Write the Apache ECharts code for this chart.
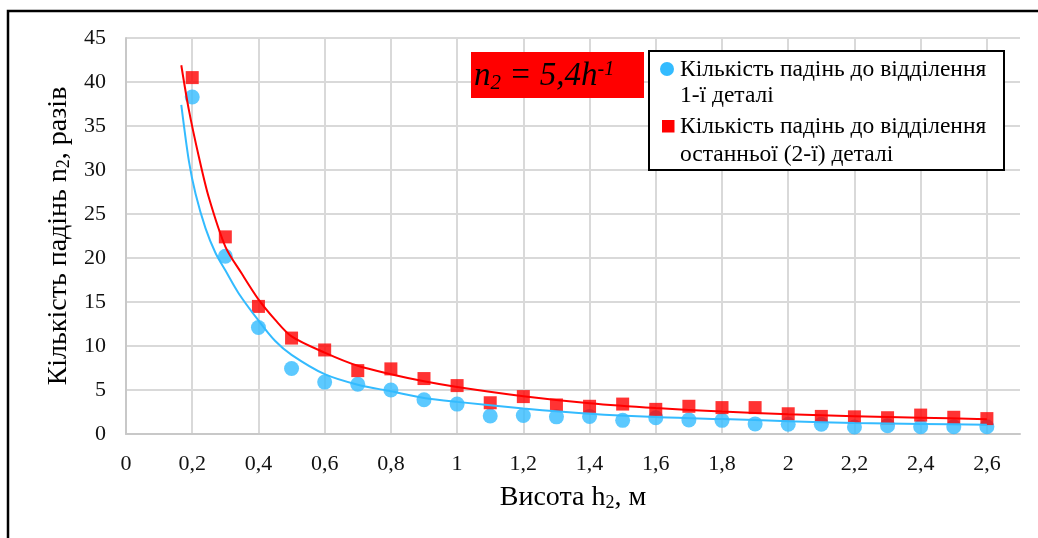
<!DOCTYPE html>
<html>
<head>
<meta charset="utf-8">
<script src="https://cdn.jsdelivr.net/npm/echarts@6/dist/echarts.min.js"></script>
<style>
  html, body { margin: 0; padding: 0; background: #fff; }
  #chart { width: 1038px; height: 538px; }
</style>
</head>
<body>
<div id="chart"></div>
<script>
// ===== Data =====
const heights = [0.2, 0.3, 0.4, 0.5, 0.6, 0.7, 0.8, 0.9, 1.0, 1.1, 1.2, 1.3, 1.4,
                 1.5, 1.6, 1.7, 1.8, 1.9, 2.0, 2.1, 2.2, 2.3, 2.4, 2.5, 2.6];
// drops until the 1st part separates (blue circles)
const dropsFirst = [38.3, 20.2, 12.1, 7.45, 5.9, 5.65, 5.0, 3.9, 3.4, 2.05, 2.1, 1.95, 2.0,
                    1.55, 1.85, 1.6, 1.55, 1.15, 1.1, 1.1, 0.8, 0.95, 0.82, 0.82, 0.82];
// drops until the last (2nd) part separates (red squares)
const dropsLast = [40.5, 22.4, 14.5, 10.9, 9.55, 7.2, 7.4, 6.3, 5.5, 3.55, 4.25, 3.3, 3.15,
                   3.4, 2.8, 3.15, 3.0, 3.0, 2.3, 2.0, 1.95, 1.85, 2.15, 1.9, 1.75];

// trend lines
const trendFirstH = [0.167, 0.19, 0.21, 0.24, 0.27, 0.3, 0.34, 0.4, 0.45, 0.5, 0.6, 0.7, 0.8,
                     0.9, 1.0, 1.2, 1.4, 1.6, 1.8, 2.0, 2.2, 2.4, 2.6];
const trendFirst  = [37.4, 31.0, 27.3, 23.4, 20.6, 18.6, 16.0, 12.9, 10.6, 9.0, 6.8, 5.6, 4.85,
                     4.1, 3.65, 2.9, 2.3, 1.92, 1.7, 1.46, 1.25, 1.14, 1.04];
const trendLastH  = [0.167, 0.19, 0.22, 0.25, 0.3, 0.35, 0.4, 0.45, 0.5, 0.6, 0.7, 0.8, 0.9,
                     1.0, 1.2, 1.4, 1.6, 1.8, 2.0, 2.2, 2.4, 2.6];
const trendLast   = [41.9, 36.8, 31.5, 26.9, 21.3, 18.2, 15.3, 13.0, 11.1, 9.25, 7.75, 6.8, 6.0,
                     5.35, 4.3, 3.5, 2.95, 2.55, 2.25, 2.03, 1.85, 1.68];

const legendLines = ['Кількість падінь до відділення', '1-ї деталі',
                     'Кількість падінь до відділення', 'останньої (2-ї) деталі'];

// ===== Style =====
const BLUE = '#33bbff';
const RED  = '#ff0000';
const GRID = '#d9d9d9';
const FONT = '"Liberation Serif", "Times New Roman", serif';

const zip = (xs, ys) => xs.map((x, i) => [x, ys[i]]);
const comma = v => String(Math.round(v * 10) / 10).replace('.', ',');

const nameRich = {
  a: { fontFamily: FONT, fontSize: 28, color: '#000', verticalAlign: 'bottom' },
  s: { fontFamily: FONT, fontSize: 18, color: '#000', verticalAlign: 'bottom' }
};

const chart = echarts.init(document.getElementById('chart'));
chart.setOption({
  backgroundColor: '#fff',
  animation: false,
  grid: { left: 126, right: 18, top: 38, bottom: 104 },
  xAxis: {
    type: 'value', min: 0, max: 2.7, interval: 0.2,
    name: '{a|Висота h}{s|2}{a|, м}',
    nameLocation: 'middle', nameGap: 50,
    nameTextStyle: { fontFamily: FONT, color: '#000', rich: nameRich },
    axisLine: { lineStyle: { color: '#c8c8c8', width: 2 } },
    axisTick: { show: false },
    axisLabel: { fontFamily: FONT, fontSize: 22, color: '#111', margin: 19,
                 showMaxLabel: false, formatter: comma },
    splitLine: { showMaxLine: false, lineStyle: { color: GRID, width: 2 } }
  },
  yAxis: {
    type: 'value', min: 0, max: 45, interval: 5,
    name: '{a|Кількість падінь n}{s|2}{a|, разів}',
    nameLocation: 'middle', nameGap: 52,
    nameTextStyle: { fontFamily: FONT, color: '#000', rich: nameRich },
    axisLine: { show: true, lineStyle: { color: '#c8c8c8', width: 2 } },
    axisTick: { show: false },
    axisLabel: { fontFamily: FONT, fontSize: 22, color: '#111', margin: 20 },
    splitLine: { lineStyle: { color: GRID, width: 2 } }
  },
  series: [
    { type: 'scatter', data: zip(heights, dropsFirst), symbol: 'circle', symbolSize: 15,
      itemStyle: { color: BLUE } },
    { type: 'scatter', data: zip(heights, dropsLast), symbol: 'rect', symbolSize: 13,
      itemStyle: { color: RED } },
    { type: 'line', data: zip(trendFirstH, trendFirst), symbol: 'none', smooth: 0.3,
      lineStyle: { color: BLUE, width: 2 } },
    { type: 'line', data: zip(trendLastH, trendLast), symbol: 'none', smooth: 0.3,
      lineStyle: { color: RED, width: 2 } }
  ],
  graphic: [
    // outer chart frame
    { type: 'rect', z: 100, silent: true,
      shape: { x: 8, y: 11, width: 1100, height: 600 },
      style: { fill: 'none', stroke: '#000', lineWidth: 2.5 } },
    // formula box
    { type: 'rect', z: 100, shape: { x: 471, y: 52, width: 173, height: 46 },
      style: { fill: RED } },
    { type: 'text', z: 101, x: 474, y: 77,
      style: {
        text: '{i|n}{s|2}{i| = 5,4h}{p|-1}',
        verticalAlign: 'middle',
        rich: {
          i: { fontFamily: FONT, fontStyle: 'italic', fontSize: 33, fill: '#000', verticalAlign: 'bottom', padding: [0, 0, 1, 0] },
          s: { fontFamily: FONT, fontStyle: 'italic', fontSize: 21, fill: '#000', verticalAlign: 'bottom' },
          p: { fontFamily: FONT, fontStyle: 'italic', fontSize: 20, fill: '#000', verticalAlign: 'top' }
        }
      } },
    // legend
    { type: 'rect', z: 100, shape: { x: 649, y: 51, width: 355, height: 119 },
      style: { fill: '#fff', stroke: '#000', lineWidth: 2 } },
    { type: 'circle', z: 101, shape: { cx: 667, cy: 69, r: 7 }, style: { fill: BLUE } },
    { type: 'rect', z: 101, shape: { x: 662, y: 120, width: 12.5, height: 12.5 }, style: { fill: RED } },
    { type: 'text', z: 101, x: 680, y: 70,
      style: { text: legendLines[0], font: '23.5px ' + FONT, fill: '#000', verticalAlign: 'middle' } },
    { type: 'text', z: 101, x: 680, y: 96,
      style: { text: legendLines[1], font: '23.5px ' + FONT, fill: '#000', verticalAlign: 'middle' } },
    { type: 'text', z: 101, x: 680, y: 127,
      style: { text: legendLines[2], font: '23.5px ' + FONT, fill: '#000', verticalAlign: 'middle' } },
    { type: 'text', z: 101, x: 680, y: 155,
      style: { text: legendLines[3], font: '23.5px ' + FONT, fill: '#000', verticalAlign: 'middle' } }
  ]
});
</script>
</body>
</html>
